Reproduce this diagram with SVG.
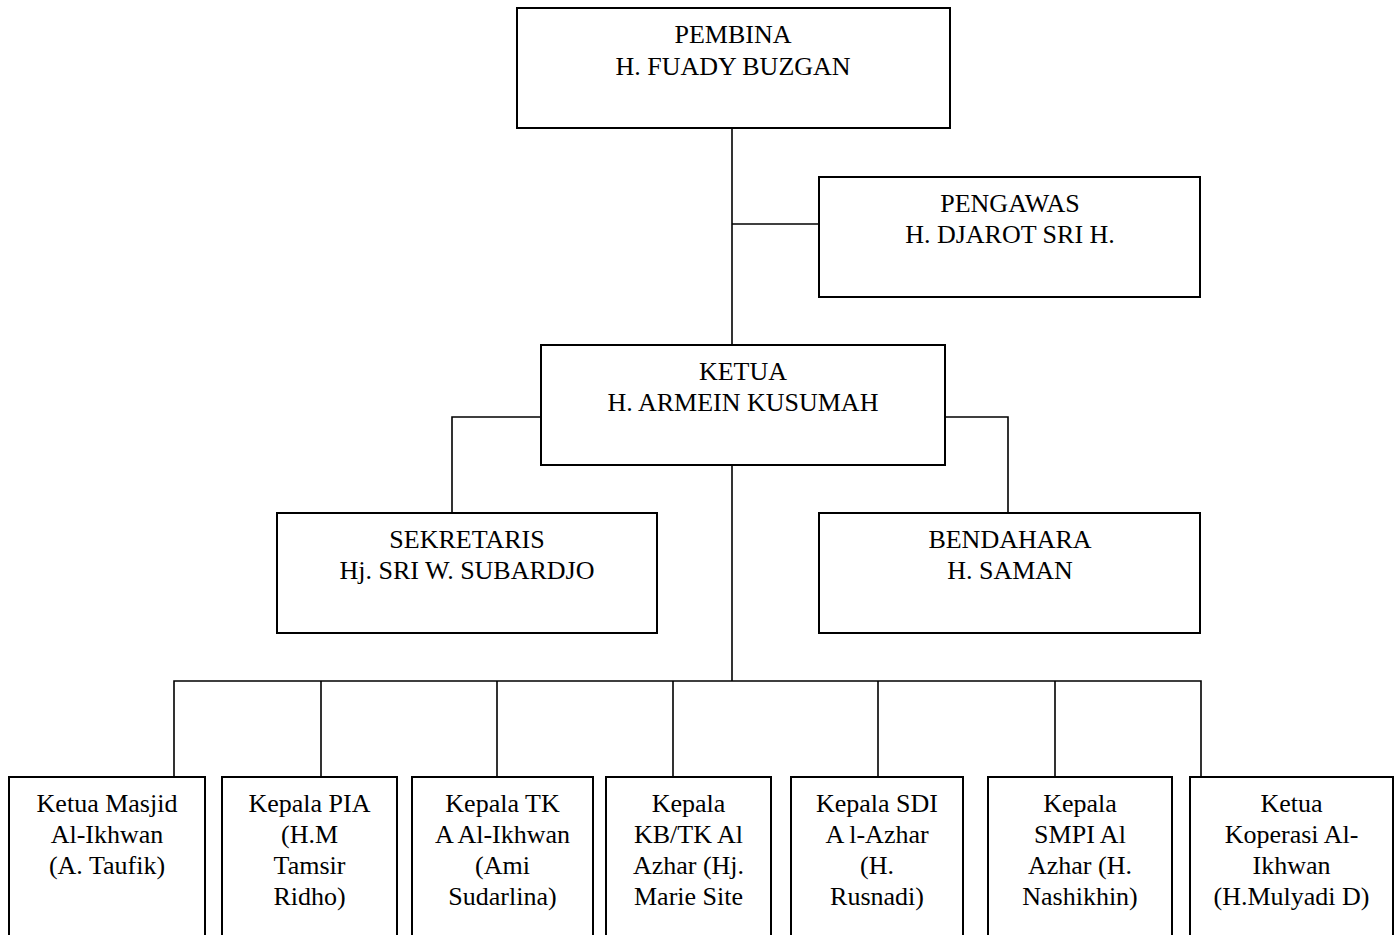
<svg xmlns="http://www.w3.org/2000/svg" width="1400" height="935" viewBox="0 0 1400 935">
<style>
.box{fill:#fff;stroke:#000;stroke-width:2}
.con{fill:none;stroke:#000;stroke-width:1.6}
text{font-family:"Liberation Serif","Times New Roman",serif;font-size:26px;fill:#000;text-anchor:middle}
</style>
<rect width="1400" height="935" fill="#fff"/>
<g id="connectors">
<path class="con" d="M732 128V345"/>
<path class="con" d="M732 224H819"/>
<path class="con" d="M541 417H452V513"/>
<path class="con" d="M945 417H1008V513"/>
<path class="con" d="M732 465V681"/>
<path class="con" d="M174 777V681H1201V777"/>
<path class="con" d="M321 681V777M497 681V777M673 681V777M878 681V777M1055 681V777"/>
</g>
<g id="pembina">
<rect class="box" x="517" y="8" width="433" height="120"/>
<text x="733" y="43">PEMBINA</text>
<text x="733" y="75">H. FUADY BUZGAN</text>
</g>
<g id="pengawas">
<rect class="box" x="819" y="177" width="381" height="120"/>
<text x="1010" y="212">PENGAWAS</text>
<text x="1010" y="243">H. DJAROT SRI H.</text>
</g>
<g id="ketua">
<rect class="box" x="541" y="345" width="404" height="120"/>
<text x="743" y="380">KETUA</text>
<text x="743" y="411">H. ARMEIN KUSUMAH</text>
</g>
<g id="sekretaris">
<rect class="box" x="277" y="513" width="380" height="120"/>
<text x="467" y="548">SEKRETARIS</text>
<text x="467" y="579">Hj. SRI W. SUBARDJO</text>
</g>
<g id="bendahara">
<rect class="box" x="819" y="513" width="381" height="120"/>
<text x="1010" y="548">BENDAHARA</text>
<text x="1010" y="579">H. SAMAN</text>
</g>
<g id="masjid">
<rect class="box" x="9" y="777" width="196" height="170"/>
<text x="107" y="812">Ketua Masjid</text>
<text x="107" y="843">Al-Ikhwan</text>
<text x="107" y="874">(A. Taufik)</text>
</g>
<g id="pia">
<rect class="box" x="222" y="777" width="175" height="170"/>
<text x="309.5" y="812">Kepala PIA</text>
<text x="309.5" y="843">(H.M</text>
<text x="309.5" y="874">Tamsir</text>
<text x="309.5" y="905">Ridho)</text>
</g>
<g id="tk">
<rect class="box" x="412" y="777" width="181" height="170"/>
<text x="502.5" y="812">Kepala TK</text>
<text x="502.5" y="843">A Al-Ikhwan</text>
<text x="502.5" y="874">(Ami</text>
<text x="502.5" y="905">Sudarlina)</text>
</g>
<g id="kbtk">
<rect class="box" x="606" y="777" width="165" height="170"/>
<text x="688.5" y="812">Kepala</text>
<text x="688.5" y="843">KB/TK Al</text>
<text x="688.5" y="874">Azhar (Hj.</text>
<text x="688.5" y="905">Marie Site</text>
</g>
<g id="sdi">
<rect class="box" x="791" y="777" width="172" height="170"/>
<text x="877" y="812">Kepala SDI</text>
<text x="877" y="843">A l-Azhar</text>
<text x="877" y="874">(H.</text>
<text x="877" y="905">Rusnadi)</text>
</g>
<g id="smpi">
<rect class="box" x="988" y="777" width="184" height="170"/>
<text x="1080" y="812">Kepala</text>
<text x="1080" y="843">SMPI Al</text>
<text x="1080" y="874">Azhar (H.</text>
<text x="1080" y="905">Nashikhin)</text>
</g>
<g id="koperasi">
<rect class="box" x="1190" y="777" width="203" height="170"/>
<text x="1291.5" y="812">Ketua</text>
<text x="1291.5" y="843">Koperasi Al-</text>
<text x="1291.5" y="874">Ikhwan</text>
<text x="1291.5" y="905">(H.Mulyadi D)</text>
</g>
</svg>
